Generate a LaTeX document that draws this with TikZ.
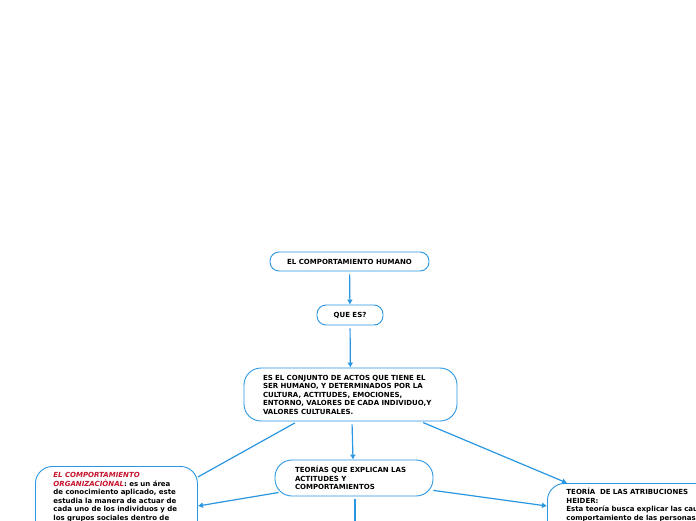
\documentclass[tikz,border=0pt]{standalone}
\usepackage{fontspec}
\setmainfont{DejaVu Sans}
\usepackage{tikz}
\usetikzlibrary{positioning,arrows.meta,calc}
\definecolor{mapblue}{RGB}{40,150,225}
\definecolor{orgred}{RGB}{200,20,45}

\begin{document}
\begin{tikzpicture}[
    x=1pt, y=-1pt,
    font=\fontsize{7}{8.5}\selectfont\bfseries,
    bubble/.style={draw=mapblue, line width=0.9pt, fill=white, rounded corners=9pt, inner sep=0pt},
    bigbubble/.style={bubble, rounded corners=17pt, align=left, inner ysep=5pt},
    link/.style={draw=mapblue, line width=1.2pt, shorten <=3pt},
    arr/.style={link, -{Latex[length=5pt, width=6pt]}}
]

\clip (0,0) rectangle (696,520);

% top chain
\node[bubble, minimum width=159pt, minimum height=19pt] (titulo) at (349.5,261.5) {EL COMPORTAMIENTO HUMANO};
\node[bubble, minimum width=66pt, minimum height=20pt] (quees) at (350,315) {QUE ES?};
\node[bigbubble, text width=175pt, inner xsep=19pt, minimum height=53pt] (conjunto) at (350.5,394.5) {ES EL CONJUNTO DE ACTOS QUE TIENE EL\\SER HUMANO, Y DETERMINADOS POR LA\\CULTURA, ACTITUDES, EMOCIONES,\\ENTORNO, VALORES DE CADA INDIVIDUO,Y\\VALORES CULTURALES.};
\node[bigbubble, text width=118pt, inner xsep=20pt, minimum height=36pt] (teorias) at (354,478) {TEORÍAS QUE EXPLICAN LAS\\ACTITUDES Y\\COMPORTAMIENTOS};

% lower boxes (cut by the page edge)
\node[bigbubble, anchor=north west, text width=152pt, inner xsep=5pt, inner ysep=6pt, text depth=60pt] (organiz) at (35,466) {{\leftskip=13pt\rightskip=-12pt plus 1fil {\color{orgred}\itshape EL COMPORTAMIENTO\\ORGANIZACIÒNAL}: es un área\\de conocimiento aplicado, este\\estudia la manera de actuar de\\cada uno de los individuos y de\\los grupos sociales dentro de\par}};
\node[bigbubble, anchor=north west, text width=190pt, inner xsep=19pt, inner ysep=5pt, text depth=40pt] (atrib) at (547,483) {TEORÍA \ DE LAS ATRIBUCIONES\\HEIDER:\\Esta teoría busca explicar las causas\\comportamiento de las personas};

\coordinate (abajo) at (355,540);

% connectors
\draw[arr] (titulo) -- (quees);
\draw[arr] (quees) -- (conjunto);
\draw[arr] ([xshift=1.5pt]conjunto.south) -- ([xshift=-1pt]teorias.north);
\draw[link] ([xshift=-53pt]conjunto.south) -- ([yshift=-11pt]organiz.north east);
\draw[arr] ([xshift=70pt]conjunto.south) -- ([xshift=20pt]atrib.north west);
\draw[arr] ([xshift=7pt,yshift=-14pt]teorias.west) -- ([yshift=-40pt]organiz.north east);
\draw[arr] ([xshift=-3pt,yshift=-12pt]teorias.east) -- ([yshift=-23pt]atrib.north west);
\draw[link] ([xshift=1pt]teorias.south) -- (abajo);

\end{tikzpicture}
\end{document}
